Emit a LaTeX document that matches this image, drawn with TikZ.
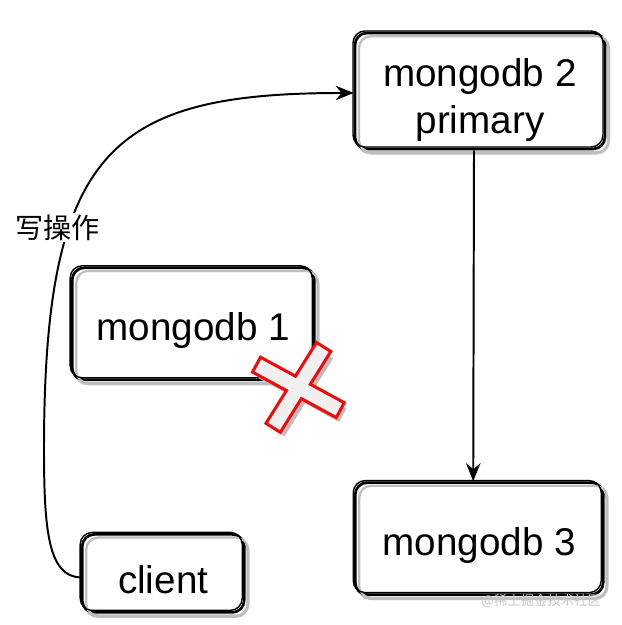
\documentclass[tikz,border=0pt]{standalone}
\usepackage{fontspec}
\setmainfont{Liberation Sans}
\newfontfamily\cjk{Noto Sans CJK SC}
\usetikzlibrary{arrows.meta, positioning}
\definecolor{sketchgray}{RGB}{190,190,190}
\definecolor{crossred}{RGB}{240,10,10}
\definecolor{crossfill}{RGB}{240,240,240}

\begin{document}
\begin{tikzpicture}[
    dbnode/.style={draw=black, fill=white, line width=1.9pt, rounded corners=0.3cm, align=center,
      font=\fontsize{27.5}{34}\selectfont, text height=1.05cm,
      preaction={draw=sketchgray, line width=2.2pt, transform canvas={shift={(0.09cm,-0.1cm)}}},
      postaction={draw=sketchgray, line width=1.6pt, transform canvas={shift={(0.1cm,-0.08cm)}}},
      postaction={draw=black, line width=1pt, transform canvas={shift={(-0.05cm,0.05cm)}}}},
    oneline/.style={text depth=0.2cm},
    writearrow/.style={-{Stealth[length=0.45cm,width=0.36cm]}, line width=1.4pt, black},
    crossarm/.style={line width=4.5pt}
]
    \useasboundingbox (0,0) rectangle (15.525,15.625);

    \node[dbnode, text height=2.35cm, minimum width=6.25cm, minimum height=2.9cm, name=m2] at(12.0,13.35) {mongodb 2\\primary};
    \node[dbnode, oneline, minimum width=6.05cm, minimum height=2.8cm, name=m1] at(4.83,7.53) {mongodb 1};
    \node[dbnode, oneline, minimum width=6.2cm, minimum height=2.8cm, name=m3] at(11.98,2.16) {mongodb 3};
    \node[dbnode, oneline, text height=1.2cm, minimum width=4.05cm, minimum height=1.95cm, name=client] at(4.08,1.29) {client};

    % write path client -> primary
    \coordinate (bend) at (1.1,4.4);
    \draw[writearrow] ([yshift=-0.1cm]client.west) .. controls (1.2,1.2) and (1.1,2.4) .. (bend)
        .. controls (1.1,11.9) and (2.8,13.3) .. ([yshift=-0.05cm]m2.west);
    \node[fill=white, inner sep=1pt, font=\cjk\fontsize{20}{24}\selectfont, name=wlabel] at(1.43,9.93) {写操作};

    % replication primary -> secondary
    \draw[writearrow] ([xshift=-0.15cm]m2.south) -- ([xshift=-0.15cm]m3.north);

    % red cross on mongodb 1
    \begin{scope}[shift={(7.46,5.94)}]
        \foreach \a in {-28.5,58}
            \fill[sketchgray, shift={(0.1,-0.15)}, rotate=\a] (-1.15,-0.19) rectangle (1.15,0.19);
        \foreach \a in {-28.5,58}
            \draw[crossred, crossarm, rotate=\a] (-1.15,-0.17) rectangle (1.15,0.17);
        \foreach \a in {-28.5,58}
            \fill[crossfill, rotate=\a] (-1.15,-0.17) rectangle (1.15,0.17);
    \end{scope}

    \node[text=gray!45, font=\cjk\fontsize{9.5}{11}\selectfont, name=mark] at(13.53,0.6) {@稀土掘金技术社区};
\end{tikzpicture}
\end{document}
